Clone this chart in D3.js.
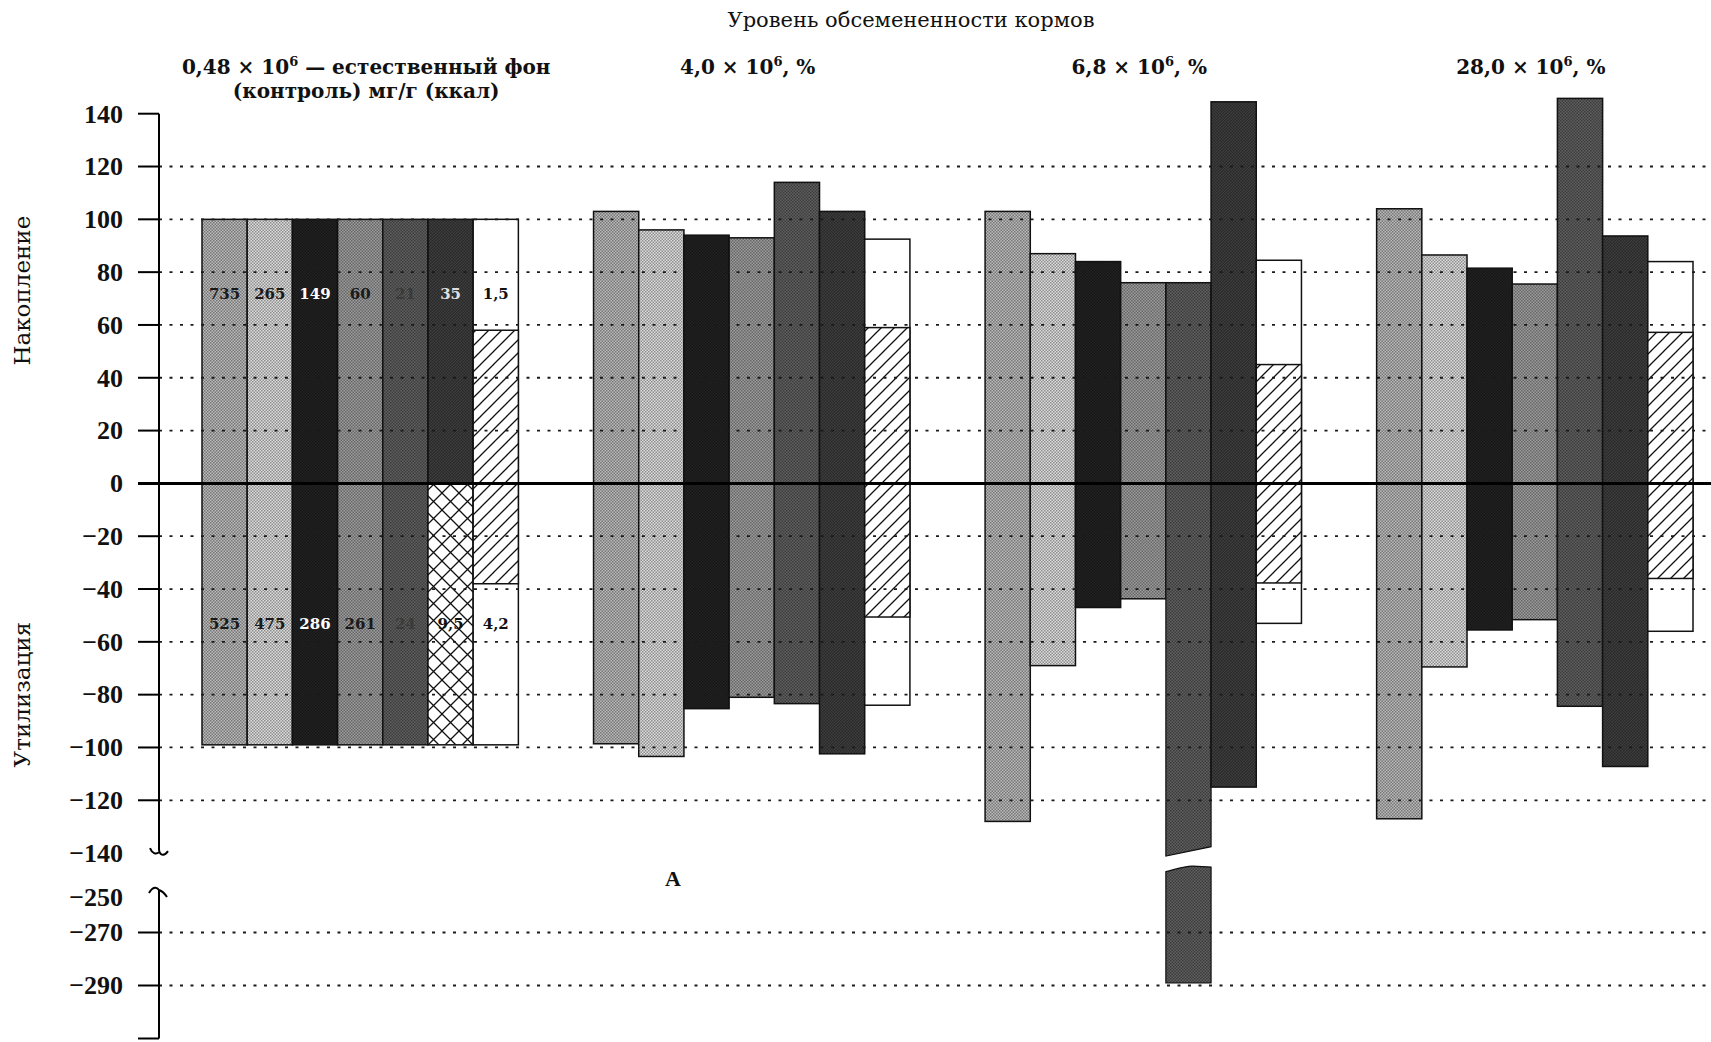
<!DOCTYPE html>
<html><head><meta charset="utf-8">
<script src="https://cdn.jsdelivr.net/npm/d3@7"></script>
<style>
html,body{margin:0;padding:0;background:#fff;}
svg{display:block;}
</style></head>
<body>
<svg id="chart" width="1711" height="1042"></svg>
<script>
// ---------- DATA ----------
const groupLabels = ["0,48", "4,0", "6,8", "28,0"];
const groupSuffix = [" — естественный фон", ", %", ", %", ", %"];
const controlSecondLine = "(контроль) мг/г (ккал)";
const chartTitle = "Уровень обсемененности кормов";
const axisTitleTop = "Накопление";
const axisTitleBottom = "Утилизация";
const panelLetter = "A";

// accumulation (positive), one array per bar series, values per group
const accS1 = [100, 103, 103, 104];
const accS2 = [100, 96, 87, 86.5];
const accS3 = [100, 94, 84, 81.5];
const accS4 = [100, 93, 76, 75.5];
const accS5 = [100, 114, 76, 145.8];
const accS6 = [100, 103, 144.5, 93.7];
const accS7 = [100, 92.5, 84.5, 84];
// utilization (negative)
const utlS1 = [-99, -98.6, -128, -127];
const utlS2 = [-99, -103.4, -69, -69.5];
const utlS3 = [-99, -85.3, -47, -55.5];
const utlS4 = [-99, -81, -43.7, -51.6];
const utlS5 = [-99, -83.4, -289, -84.4];
const utlS6 = [-99, -102.4, -115, -107.2];
const utlS7 = [-99, -84, -53, -56];
// hatched inner part of the 7th bar
const hatchTop = [58, 59, 45, 57.2];
const hatchBottom = [-38, -50.6, -37.7, -36];
// numbers written in the control group
const controlTopLabels = ["735", "265", "149", "60", "21", "35", "1,5"];
const controlBottomLabels = ["525", "475", "286", "261", "24", "9,5", "4,2"];
// tick labels
const upperTicks = [140, 120, 100, 80, 60, 40, 20, 0, -20, -40, -60, -80, -100, -120, -140];
const lowerTicks = [-250, -270, -290];
const upperGrid = [120, 100, 80, 60, 40, 20, -20, -40, -60, -80, -100, -120];
const lowerGrid = [-270, -290];

const accumulation = [accS1, accS2, accS3, accS4, accS5, accS6, accS7];
const utilization = [utlS1, utlS2, utlS3, utlS4, utlS5, utlS6, utlS7];

// ---------- STYLE ----------
const fills = ["#a4a4a4", "#c3c3c3", "#1e1e1e", "#8b8b8b", "#545454", "#373737", "#ffffff"];
const topLabelColors = ["#1a1a1a", "#1a1a1a", "#ffffff", "#1a1a1a", "#3a3a3a", "#e0e0e0", "#111"];
const botLabelColors = ["#1a1a1a", "#1a1a1a", "#ffffff", "#1a1a1a", "#3a3a3a", "#111", "#111"];
const serifBold = "'Liberation Serif', 'DejaVu Serif', serif";
const serifWide = "'DejaVu Serif', 'Liberation Serif', serif";

const svg = d3.select("#chart");
const W = 1711;
const axisX = 159;
const tickX0 = 138;

const yUp = d3.scaleLinear().domain([-140, 140]).range([853.1, 113.7]);
const yLow = d3.scaleLinear().domain([-310, -290, -270, -250]).range([1038.5, 985.5, 932.5, 897]);
const x0 = d3.scaleBand().domain(d3.range(groupLabels.length)).range([202, 1693]).paddingInner(0.192).paddingOuter(0);
const x1 = d3.scaleBand().domain(d3.range(7)).range([0, x0.bandwidth()]);

// ---------- PATTERNS ----------
const defs = svg.append("defs");
fills.slice(0, 6).forEach((c, i) => {
  const base = d3.color(c);
  const p = defs.append("pattern").attr("id", "dot" + i).attr("patternUnits", "userSpaceOnUse")
    .attr("width", 3).attr("height", 3);
  p.append("rect").attr("width", 3).attr("height", 3).attr("fill", base.brighter(0.35).formatHex());
  p.append("rect").attr("x", 0).attr("y", 0).attr("width", 1.5).attr("height", 1.5).attr("fill", base.darker(0.9).formatHex());
  p.append("rect").attr("x", 1.5).attr("y", 1.5).attr("width", 1.5).attr("height", 1.5).attr("fill", base.darker(0.9).formatHex());
});
const hp = defs.append("pattern").attr("id", "hatch").attr("patternUnits", "userSpaceOnUse")
  .attr("width", 13).attr("height", 13);
hp.append("rect").attr("width", 13).attr("height", 13).attr("fill", "#fff");
hp.append("path").attr("d", "M-1,14 L14,-1 M-4,4 L4,-4 M9,17 L17,9").attr("stroke", "#111").attr("stroke-width", 1.3);
const xp = defs.append("pattern").attr("id", "cross").attr("patternUnits", "userSpaceOnUse")
  .attr("width", 17).attr("height", 17);
xp.append("rect").attr("width", 17).attr("height", 17).attr("fill", "#fff");
xp.append("path").attr("d", "M0,17 L17,0 M0,0 L17,17").attr("stroke", "#111").attr("stroke-width", 1.3);

// ---------- BARS ----------
const gBars = svg.append("g");
const breakLimit = -140;
groupLabels.forEach((g, gi) => {
  for (let s = 0; s < 7; s++) {
    const xl = x0(gi) + x1(s);
    const w = x1.bandwidth();
    const pos = accumulation[s][gi];
    const neg = utilization[s][gi];
    const fillPos = s === 6 ? "#fff" : `url(#dot${s})`;
    let fillNeg = s === 6 ? "#fff" : `url(#dot${s})`;
    if (gi === 0 && s === 5) fillNeg = "url(#cross)";
    // positive part
    gBars.append("rect").attr("x", xl).attr("y", yUp(pos)).attr("width", w)
      .attr("height", yUp(0) - yUp(pos)).attr("fill", fillPos)
      .attr("stroke", "#111").attr("stroke-width", 1.5);
    // negative part
    if (neg >= breakLimit) {
      gBars.append("rect").attr("x", xl).attr("y", yUp(0)).attr("width", w)
        .attr("height", yUp(neg) - yUp(0)).attr("fill", fillNeg)
        .attr("stroke", "#111").attr("stroke-width", 1.5);
    } else {
      const yb = yUp(breakLimit);
      gBars.append("path")
        .attr("d", `M${xl},${yUp(0)} L${xl + w},${yUp(0)} L${xl + w},${yb - 6.4} L${xl},${yb + 3} Z`)
        .attr("fill", fillNeg).attr("stroke", "#111").attr("stroke-width", 1.2);
      gBars.append("path")
        .attr("d", `M${xl},${yb + 18.6} C${xl + w * 0.3},${yb + 15} ${xl + w * 0.45},${yb + 12.5} ${xl + w * 0.6},${yb + 13} L${xl + w},${yb + 14} L${xl + w},${yLow(neg)} L${xl},${yLow(neg)} Z`)
        .attr("fill", fillNeg).attr("stroke", "#111").attr("stroke-width", 1.2);
    }
    if (s === 6) {
      gBars.append("rect").attr("x", xl).attr("y", yUp(hatchTop[gi])).attr("width", w)
        .attr("height", yUp(hatchBottom[gi]) - yUp(hatchTop[gi])).attr("fill", "url(#hatch)")
        .attr("stroke", "#111").attr("stroke-width", 1.5);
    }
  }
});

// ---------- GRID ----------
const gGrid = svg.append("g");
upperGrid.forEach(v => {
  gGrid.append("line").attr("x1", axisX).attr("x2", W).attr("y1", yUp(v)).attr("y2", yUp(v))
    .attr("stroke", "#1a1a1a").attr("stroke-width", 1.8).attr("stroke-dasharray", "3,7.5");
});
lowerGrid.forEach(v => {
  gGrid.append("line").attr("x1", axisX).attr("x2", W).attr("y1", yLow(v)).attr("y2", yLow(v))
    .attr("stroke", "#1a1a1a").attr("stroke-width", 1.8).attr("stroke-dasharray", "3,7.5");
});
// zero line
svg.append("line").attr("x1", tickX0).attr("x2", W).attr("y1", yUp(0)).attr("y2", yUp(0))
  .attr("stroke", "#000").attr("stroke-width", 3);

// ---------- AXIS ----------
const gAx = svg.append("g").attr("stroke", "#000").attr("stroke-width", 2).attr("fill", "none");
gAx.append("line").attr("x1", axisX).attr("x2", axisX).attr("y1", yUp(140)).attr("y2", yUp(-140) - 4);
// upper break mark
const yb1 = yUp(-140) - 4;
gAx.append("path").attr("d", `M${axisX},${yb1} C${axisX},${yb1 + 6} ${axisX + 5},${yb1 + 8} ${axisX + 9},${yb1 + 2}`);
gAx.append("path").attr("d", `M${axisX},${yb1 + 3} C${axisX - 3},${yb1 + 6} ${axisX - 7},${yb1 + 4} ${axisX - 9},${yb1 - 1}`);
// lower segment
const yb2 = yLow(-250) - 7;
gAx.append("line").attr("x1", axisX).attr("x2", axisX).attr("y1", yb2).attr("y2", yLow(-310));
gAx.append("path").attr("d", `M${axisX - 10},${yb2 + 3} C${axisX - 6},${yb2 - 4} ${axisX - 2},${yb2 - 3} ${axisX},${yb2}`);
gAx.append("path").attr("d", `M${axisX},${yb2} C${axisX + 3},${yb2 + 1} ${axisX + 6},${yb2 + 4} ${axisX + 8},${yb2 + 7}`);
// ticks
upperTicks.filter(v => v !== -140).forEach(v => {
  gAx.append("line").attr("x1", tickX0).attr("x2", axisX).attr("y1", yUp(v)).attr("y2", yUp(v));
});
lowerTicks.filter(v => v !== -250).concat([-310]).forEach(v => {
  gAx.append("line").attr("x1", tickX0).attr("x2", axisX).attr("y1", yLow(v)).attr("y2", yLow(v));
});
const fmt = v => (v < 0 ? "\u2212" + Math.abs(v) : String(v));
const gT = svg.append("g").attr("font-family", serifBold).attr("font-weight", "bold")
  .attr("font-size", 26).attr("text-anchor", "end").attr("fill", "#111");
upperTicks.forEach(v => {
  gT.append("text").attr("x", 123).attr("y", yUp(v)).attr("dy", "0.34em").text(fmt(v));
});
lowerTicks.forEach(v => {
  gT.append("text").attr("x", 123).attr("y", yLow(v)).attr("dy", "0.34em").text(fmt(v));
});

// axis titles
svg.append("text").attr("transform", `translate(30,${yUp(73)}) rotate(-90)`)
  .attr("text-anchor", "middle").attr("font-family", serifWide).attr("font-size", 23)
  .attr("fill", "#111").text(axisTitleTop);
svg.append("text").attr("transform", `translate(30,${yUp(-80)}) rotate(-90)`)
  .attr("text-anchor", "middle").attr("font-family", serifWide).attr("font-size", 23)
  .attr("fill", "#111").text(axisTitleBottom);

// ---------- TEXT IN CONTROL GROUP ----------
const gL = svg.append("g").attr("font-family", serifWide).attr("font-weight", "bold")
  .attr("font-size", 15).attr("text-anchor", "middle");
controlTopLabels.forEach((t, s) => {
  gL.append("text").attr("x", x0(0) + x1(s) + x1.bandwidth() / 2).attr("y", yUp(72)).attr("dy", "0.35em")
    .attr("fill", topLabelColors[s]).text(t);
});
controlBottomLabels.forEach((t, s) => {
  gL.append("text").attr("x", x0(0) + x1(s) + x1.bandwidth() / 2).attr("y", yUp(-53)).attr("dy", "0.35em")
    .attr("fill", botLabelColors[s]).text(t);
});

// ---------- TITLES ----------
svg.append("text").attr("x", 911).attr("y", 27).attr("text-anchor", "middle")
  .attr("font-family", serifWide).attr("font-size", 21).attr("fill", "#111").text(chartTitle);
groupLabels.forEach((g, gi) => {
  const cx = x0(gi) + x0.bandwidth() / 2 + (gi === 0 ? 6 : -4);
  const t = svg.append("text").attr("x", cx).attr("y", 74).attr("text-anchor", "middle")
    .attr("font-family", serifWide).attr("font-weight", "bold").attr("font-size", 20).attr("fill", "#111");
  t.append("tspan").text(g + " \u00d7 10");
  t.append("tspan").attr("dy", -8).attr("font-size", 13).text("6");
  t.append("tspan").attr("dy", 8).text(groupSuffix[gi]);
});
svg.append("text").attr("x", x0(0) + x0.bandwidth() / 2 + 6).attr("y", 98).attr("text-anchor", "middle")
  .attr("font-family", serifWide).attr("font-weight", "bold").attr("font-size", 20).attr("fill", "#111")
  .text(controlSecondLine);

svg.append("text").attr("x", 673).attr("y", 886).attr("text-anchor", "middle")
  .attr("font-family", serifBold).attr("font-weight", "bold").attr("font-size", 22).attr("fill", "#111")
  .text(panelLetter);
</script>
</body></html>
